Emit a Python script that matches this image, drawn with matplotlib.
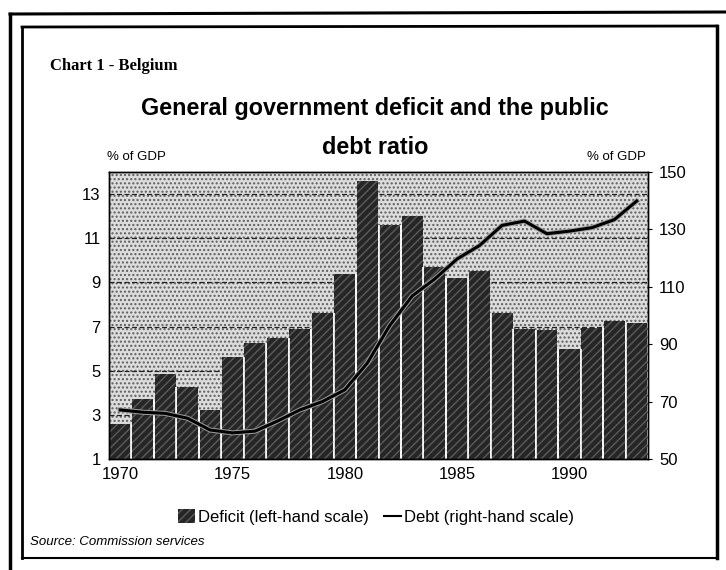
import matplotlib.pyplot as plt
import matplotlib.patheffects as pe
from matplotlib.patches import Patch, Rectangle
from matplotlib.lines import Line2D
from matplotlib.font_manager import fontManager

# --- Data (% of GDP) ---
years = list(range(1970, 1994))
deficit = [2.6, 3.7, 4.85, 4.25, 3.2, 5.6, 6.25, 6.5, 6.9, 7.6, 9.4, 13.6,
           11.6, 12.0, 9.7, 9.2, 9.5, 7.6, 6.9, 6.85, 6.0, 6.95, 7.25, 7.15]
debt = [67.1, 66.3, 65.9, 64.2, 60.1, 59.1, 59.7, 63.2, 67.1, 70.0, 74.1, 83.4,
        96.5, 106.8, 112.7, 119.7, 124.4, 131.4, 132.9, 128.5, 129.4, 130.6,
        133.4, 139.9]
left_ticks = [1, 3, 5, 7, 9, 11, 13]
right_ticks = [50, 70, 90, 110, 130, 150]
year_ticks = [1970, 1975, 1980, 1985, 1990]

W, H = 726, 570
fig = plt.figure(figsize=(W / 100, H / 100), dpi=100)
fig.patch.set_facecolor("white")

plain = ["Liberation Sans", "DejaVu Sans"]
# use a narrow face for the headline if one is around, else shrink a bit
installed = {f.name for f in fontManager.ttflist}
if "Liberation Sans Narrow" in installed:
    title_family, title_size = ["Liberation Sans Narrow"], 19
else:
    title_family, title_size = plain, 16.8

bar_face = "#262626"
bar_hatch = "#5c5c5c"

# --- page frame ---
def px_line(x0, y0, x1, y1, lw):
    fig.add_artist(Line2D([x0 / W, x1 / W], [1 - y0 / H, 1 - y1 / H],
                          color="black", lw=lw, transform=fig.transFigure))

px_line(10, 14, 726, 12, 2.2)
px_line(10, 14, 10, 570, 2.5)
px_line(22, 27, 717, 26, 2.0)
px_line(717, 26, 717, 558, 2.5)
px_line(22, 558, 717, 558, 1.5)
px_line(22, 27, 22, 558, 2.0)

# --- axes ---
ax = fig.add_axes([109 / W, 1 - 459 / H, 539 / W, 287 / H])
ax.set_xlim(1969.5, 1993.5)
ax.set_ylim(1, 14)
ax.patch.set_facecolor("#dcdcdc")
ax.add_patch(Rectangle((0, 0), 1, 1, transform=ax.transAxes, facecolor="none",
                       edgecolor="#5e5e5e", hatch="....", lw=0, zorder=0))

for t in left_ticks[1:]:
    ax.axhline(t, color="#222222", lw=0.9, ls=(0, (4, 2)), zorder=1)

ax.bar(years, deficit, width=0.94, color=bar_face, edgecolor=bar_hatch,
       hatch="////", lw=0, zorder=2)
# thin white gaps between neighbouring bars
ax.vlines([y + 0.5 for y in years[:-1]], 1,
          [min(a, b) for a, b in zip(deficit[:-1], deficit[1:])],
          color="white", lw=1.2, zorder=2.5)

ax.set_yticks(left_ticks)
ax.set_yticklabels([str(t) for t in left_ticks], fontsize=12, family=plain)
ax.set_xticks(year_ticks)
ax.set_xticklabels([str(y) for y in year_ticks], fontsize=12, family=plain)
ax.tick_params(length=0, pad=6)
for s in ax.spines.values():
    s.set_linewidth(1.0)

ax2 = ax.twinx()
ax2.set_ylim(50, 150)
ax2.plot(years, debt, color="black", lw=2.2, zorder=3,
         path_effects=[pe.withStroke(linewidth=3.6, foreground="#a0a0a0")])
ax2.set_yticks(right_ticks)
ax2.set_yticklabels([str(t) for t in right_ticks], fontsize=12, family=plain)
ax2.tick_params(length=3, pad=5)
for s in ax2.spines.values():
    s.set_linewidth(1.0)

# --- texts ---
fig.text(50 / W, 1 - 66 / H, "Chart 1 - Belgium", fontsize=12,
         fontweight="bold", family=["Liberation Serif", "DejaVu Serif"],
         va="center", ha="left")
fig.text(375 / W, 1 - 109 / H, "General government deficit and the public",
         fontsize=title_size, fontweight="bold", family=title_family,
         ha="center", va="center")
fig.text(375 / W, 1 - 147 / H, "debt ratio", fontsize=title_size,
         fontweight="bold", family=title_family, ha="center", va="center")
fig.text(107 / W, 1 - 157 / H, "% of GDP", fontsize=9.5, family=plain,
         ha="left", va="center")
fig.text(646 / W, 1 - 157 / H, "% of GDP", fontsize=9.5, family=plain,
         ha="right", va="center")
fig.text(30 / W, 1 - 542 / H, "Source: Commission services", fontsize=9.5,
         style="italic", family=plain, ha="left", va="center")

handles = [Patch(facecolor=bar_face, edgecolor=bar_hatch, hatch="////", lw=0),
           Line2D([0], [0], color="black", lw=1.5)]
fig.legend(handles, ["Deficit (left-hand scale)", "Debt (right-hand scale)"],
           loc="center", bbox_to_anchor=(376 / W, 1 - 517 / H), ncol=2,
           frameon=False, prop={"family": plain, "size": 12},
           handlelength=1.0, handleheight=0.9, handletextpad=0.2,
           columnspacing=0.9)

fig.savefig("out.png", dpi=100)
